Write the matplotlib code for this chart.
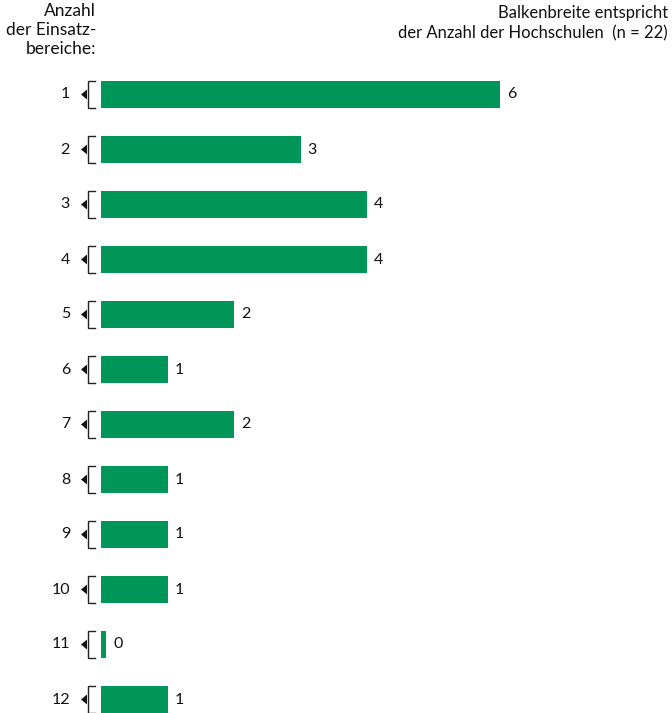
import matplotlib
matplotlib.use("Agg")
import matplotlib.pyplot as plt
from matplotlib.patches import Polygon

plt.rcParams['font.family'] = ['Lato', 'DejaVu Sans']

bereiche = [1, 2, 3, 4, 5, 6, 7, 8, 9, 10, 11, 12]
hochschulen = [6, 3, 4, 4, 2, 1, 2, 1, 1, 1, 0, 1]

GREEN = "#00965A"
INK = "#111111"
W, H = 672, 713
DPI = 100
PX_PER_UNIT = 66.5      # horizontal scale in pixels per Hochschule
X0_PX = 101             # pixel position of the value 0
FIRST_PX, STEP_PX = 94.5, 55.0
BAR_H = 27 / STEP_PX
MIN_W = 5 / PX_PER_UNIT
FS = 11.5

fig = plt.figure(figsize=(W / DPI, H / DPI), dpi=DPI)
ax = fig.add_axes([X0_PX / W, 0, 1 - X0_PX / W, 1])
ax.set_xlim(0, (W - X0_PX) / PX_PER_UNIT)
top = 1 - FIRST_PX / STEP_PX
bottom = 1 + (H - FIRST_PX) / STEP_PX
ax.set_ylim(bottom, top)
ax.axis("off")

def px(dx):
    return dx / PX_PER_UNIT

widths = [max(v, MIN_W) for v in hochschulen]
ax.barh(bereiche, widths, height=BAR_H, color=GREEN, linewidth=0)

for b, v, w in zip(bereiche, hochschulen, widths):
    ax.text(w + px(7), b, str(v), va="center", ha="left", fontsize=FS, color=INK)
    ax.text(px(-31), b, str(b), va="center", ha="right", fontsize=FS, color=INK)
    # bracket
    y0, y1 = b - BAR_H / 2, b + BAR_H / 2
    ax.plot([px(-6), px(-13), px(-13), px(-6)], [y0, y0, y1, y1],
            color="#222222", lw=1.0, clip_on=False, solid_joinstyle="miter")
    # pointer triangle
    tri = Polygon([(px(-20), b), (px(-14), b - 0.09), (px(-14), b + 0.09)],
                  closed=True, color=INK, clip_on=False, lw=0)
    ax.add_patch(tri)

fig.text(96 / W, 1 - 3 / H, "Anzahl\nder Einsatz-\nbereiche:", ha="right", va="top",
         fontsize=12.5, linespacing=1.25, color=INK)
fig.text(668 / W, 1 - 5 / H, "Balkenbreite entspricht\nder Anzahl der Hochschulen  (n = 22)",
         ha="right", va="top", fontsize=12, linespacing=1.3, color=INK)

fig.savefig("out.png", dpi=DPI)
